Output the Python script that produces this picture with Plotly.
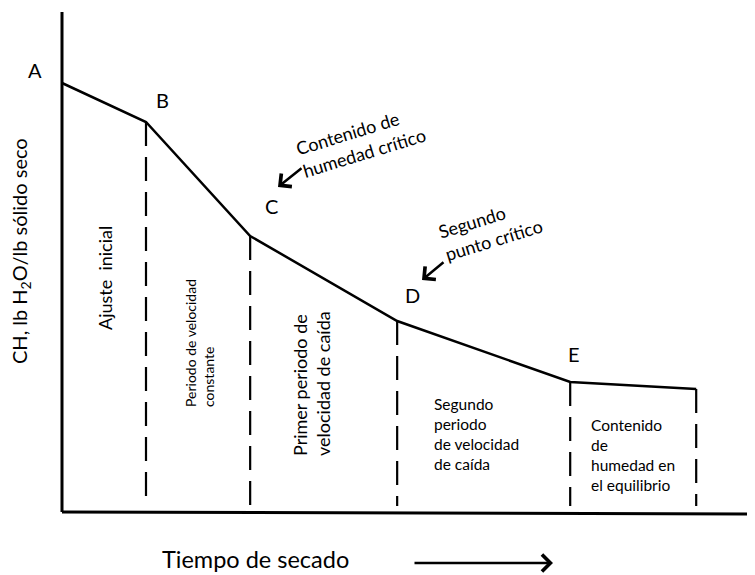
import plotly.graph_objects as go

# drying curve: time (arbitrary units) vs moisture content
tiempo = [0.0, 1.0, 2.24, 3.99, 6.05, 7.55]
humedad = [4.29, 3.90, 2.76, 1.91, 1.30, 1.23]
puntos = ["A", "B", "C", "D", "E", ""]

W, H = 755, 575
OFF = 8  # page body margin
FONT = "Lato"


def px(x, y):
    # pixel position on the page -> paper coordinates
    return (x - OFF) / W, 1 - (y - OFF) / H


def label(x, y, text, size, **kw):
    xp, yp = px(x, y)
    d = dict(x=xp, y=yp, xref="paper", yref="paper", text=text,
             showarrow=False, xanchor="center", yanchor="middle",
             font=dict(size=size, family=FONT, color="black"))
    d.update(kw)
    return d


def arrow(x, y, ax, ay):
    xp, yp = px(x, y)
    return dict(x=xp, y=yp, xref="paper", yref="paper", text="",
                showarrow=True, ax=ax, ay=ay, arrowhead=4, arrowsize=1.3,
                arrowwidth=2.5, arrowcolor="black")


fig = go.Figure()

# main curve
fig.add_trace(go.Scatter(x=tiempo, y=humedad, mode="lines",
                         line=dict(color="black", width=2.5),
                         showlegend=False, hoverinfo="skip"))

# dashed vertical separators under each point (B..end)
for i in range(1, len(tiempo)):
    fig.add_trace(go.Scatter(x=[tiempo[i], tiempo[i]], y=[humedad[i], 0.06],
                             mode="lines",
                             line=dict(color="black", width=2.2, dash="24px,11px"),
                             showlegend=False, hoverinfo="skip"))

# axes
fig.add_shape(type="line", x0=0, y0=0, x1=0, y1=5.0,
              line=dict(color="black", width=3))
fig.add_shape(type="line", x0=0, y0=0, x1=8.25, y1=-0.02,
              line=dict(color="black", width=3))

ann = []

# point letters
letter_pos = {"A": (35, 70), "B": (162, 100), "C": (271, 206),
              "D": (412, 295), "E": (574, 354)}
for name in puntos:
    if name:
        ann.append(label(*letter_pos[name], name, 20))

# critical-point notes with arrows
ann.append(label(360, 141, "Contenido de<br>humedad crítico", 18,
                 textangle=-17, align="left"))
ann.append(arrow(278, 187, 25, -20))
ann.append(label(490, 228, "Segundo<br>punto crítico", 18,
                 textangle=-17, align="left"))
ann.append(arrow(422, 280, 23, -19))

# period labels
ann.append(label(105, 278, "Ajuste  inicial", 18, textangle=-90))
ann.append(label(199, 343, "Periodo de velocidad<br>constante", 14,
                 textangle=-90, align="left"))
ann.append(label(311, 384, "Primer periodo de<br>velocidad de caída", 18,
                 textangle=-90, align="left"))
ann.append(label(432, 434, "Segundo<br>periodo<br>de velocidad<br>de caída", 15.5,
                 xanchor="left", align="left"))
ann.append(label(589, 455, "Contenido<br>de<br>humedad en<br>el equilibrio", 15.5,
                 xanchor="left", align="left"))

# axis titles
ann.append(label(20, 251, "CH, lb H<sub>2</sub>O/lb sólido seco", 20,
                 textangle=-90))
ann.append(label(255, 559, "Tiempo de secado", 23.5))
ann.append(arrow(553, 563, -140, 0))

fig.update_layout(
    width=W, height=H,
    margin=dict(l=0, r=0, t=0, b=0),
    paper_bgcolor="white", plot_bgcolor="white",
    xaxis=dict(range=[-(62 - OFF) / 84, (W + OFF - 62) / 84], visible=False),
    yaxis=dict(range=[(512 - OFF - H) / 100, (512 - OFF) / 100], visible=False),
    annotations=ann,
    showlegend=False,
)

fig.write_html("out.html")
